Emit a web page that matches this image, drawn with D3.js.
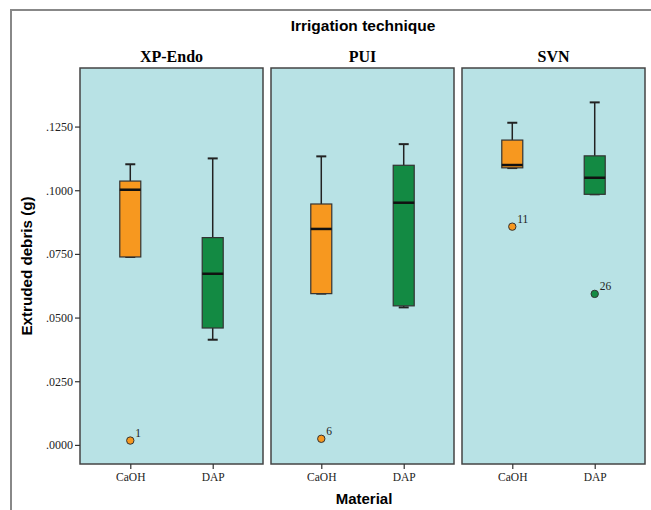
<!DOCTYPE html>
<html><head><meta charset="utf-8">
<script src="https://cdn.jsdelivr.net/npm/d3@7"></script>
<style>body{margin:0;background:#fff}</style>
</head><body>
<svg id="c" width="651" height="510"></svg>
<script>
const techniques = ["XP-Endo", "PUI", "SVN"];
const materials = ["CaOH", "DAP"];
// [min, q1, median, q3, max] per technique per material
const caohStats = [
  [0.0738, 0.0738, 0.1002, 0.1036, 0.1102],
  [0.0594, 0.0594, 0.0848, 0.0946, 0.1133],
  [0.1087, 0.1088, 0.1099, 0.1197, 0.1265]
];
const dapStats = [
  [0.0413, 0.0459, 0.0672, 0.0814, 0.1125],
  [0.0540, 0.0546, 0.0951, 0.1098, 0.1181],
  [0.0984, 0.0984, 0.1049, 0.1135, 0.1345]
];
const outliers = [
  {t: "XP-Endo", m: "CaOH", v: 0.0017, label: "1"},
  {t: "PUI", m: "CaOH", v: 0.0024, label: "6"},
  {t: "SVN", m: "CaOH", v: 0.0857, label: "11"},
  {t: "SVN", m: "DAP", v: 0.0593, label: "26"}
];
const yTicks = [0, 0.025, 0.05, 0.075, 0.1, 0.125];

const colors = {CaOH: "#f7981f", DAP: "#138a43"};
const svg = d3.select("#c");
const plotTop = 68, plotBottom = 464;
const panelW = 183, gap = 8, left0 = 80;
const sans = "Liberation Sans, Arial, sans-serif";
const serif = "Liberation Serif, Times New Roman, serif";

// outer frame
svg.append("rect").attr("x", 11).attr("y", 10).attr("width", 700).attr("height", 600)
  .attr("fill", "none").attr("stroke", "#888").attr("stroke-width", 2);

const y = d3.scaleLinear().domain([-0.0075, 0.148]).range([plotBottom, plotTop]);
const fx = d3.scaleBand().domain(techniques).range([left0, left0 + 3 * panelW + 2 * gap]).paddingInner(gap / (panelW + gap));

svg.append("text").attr("x", 363).attr("y", 31).attr("text-anchor", "middle")
  .attr("font-family", sans).attr("font-weight", "bold").attr("font-size", 15.5)
  .text("Irrigation technique");
svg.append("text").attr("x", 364).attr("y", 504).attr("text-anchor", "middle")
  .attr("font-family", sans).attr("font-weight", "bold").attr("font-size", 15)
  .text("Material");
svg.append("text").attr("transform", "translate(32,266) rotate(-90)").attr("text-anchor", "middle")
  .attr("font-family", sans).attr("font-weight", "bold").attr("font-size", 15)
  .attr("textLength", 139).attr("lengthAdjust", "spacingAndGlyphs")
  .text("Extruded debris (g)");

techniques.forEach((t, ti) => {
  const px = fx(t);
  const g = svg.append("g").attr("transform", `translate(${px},0)`);
  const x = d3.scalePoint().domain(materials).range([0, fx.bandwidth()]).padding(0.61);
  g.append("rect").attr("x", 0).attr("y", plotTop).attr("width", fx.bandwidth()).attr("height", plotBottom - plotTop)
    .attr("fill", "#b8e2e5").attr("stroke", "#444").attr("stroke-width", 1.5);
  g.append("text").attr("x", fx.bandwidth() / 2).attr("y", 62).attr("text-anchor", "middle")
    .attr("font-family", serif).attr("font-weight", "bold").attr("font-size", 16)
    .text(t);
  // x axis
  const xa = g.append("g").attr("transform", `translate(0,${plotBottom})`)
    .call(d3.axisBottom(x).tickSize(5).tickPadding(4));
  xa.select(".domain").remove();
  xa.selectAll("line").attr("stroke", "#333").attr("stroke-width", 1.2);
  xa.selectAll("text").attr("font-family", serif).attr("font-size", 11.5).attr("fill", "#222");

  const stats = [caohStats[ti], dapStats[ti]];
  materials.forEach((m, mi) => {
    const s = stats[mi];
    const cx = x(m), bw = 21, cw = 10;
    const bg = g.append("g");
    bg.append("line").attr("x1", cx).attr("x2", cx).attr("y1", y(s[4])).attr("y2", y(s[3])).attr("stroke", "#222").attr("stroke-width", 1.5);
    bg.append("line").attr("x1", cx).attr("x2", cx).attr("y1", y(s[1])).attr("y2", y(s[0])).attr("stroke", "#222").attr("stroke-width", 1.5);
    bg.append("line").attr("x1", cx - cw / 2).attr("x2", cx + cw / 2).attr("y1", y(s[4])).attr("y2", y(s[4])).attr("stroke", "#222").attr("stroke-width", 2);
    bg.append("line").attr("x1", cx - cw / 2).attr("x2", cx + cw / 2).attr("y1", y(s[0])).attr("y2", y(s[0])).attr("stroke", "#222").attr("stroke-width", 2);
    bg.append("rect").attr("x", cx - bw / 2).attr("width", bw).attr("y", y(s[3])).attr("height", y(s[1]) - y(s[3]))
      .attr("fill", colors[m]).attr("stroke", "#333").attr("stroke-width", 1.2);
    bg.append("line").attr("x1", cx - bw / 2).attr("x2", cx + bw / 2).attr("y1", y(s[2])).attr("y2", y(s[2])).attr("stroke", "#111").attr("stroke-width", 2.5);
  });
  outliers.filter(o => o.t === t).forEach(o => {
    const cx = x(o.m);
    g.append("circle").attr("cx", cx).attr("cy", y(o.v)).attr("r", 3.7).attr("fill", colors[o.m]).attr("stroke", "#333").attr("stroke-width", 1);
    g.append("text").attr("x", cx + 5).attr("y", y(o.v) - 4).attr("font-family", serif)
      .attr("font-size", 11.5).attr("fill", "#222").text(o.label);
  });
  if (ti === 0) {
    const ya = g.append("g").call(d3.axisLeft(y).tickValues(yTicks).tickSize(5).tickPadding(2).tickFormat(d => d3.format(".4f")(d).replace(/^0/, "")));
    ya.select(".domain").remove();
    ya.selectAll("line").attr("stroke", "#333").attr("stroke-width", 1.2);
    ya.selectAll("text").attr("font-family", serif).attr("font-size", 12).attr("fill", "#222");
  }
});
</script>
</body></html>
